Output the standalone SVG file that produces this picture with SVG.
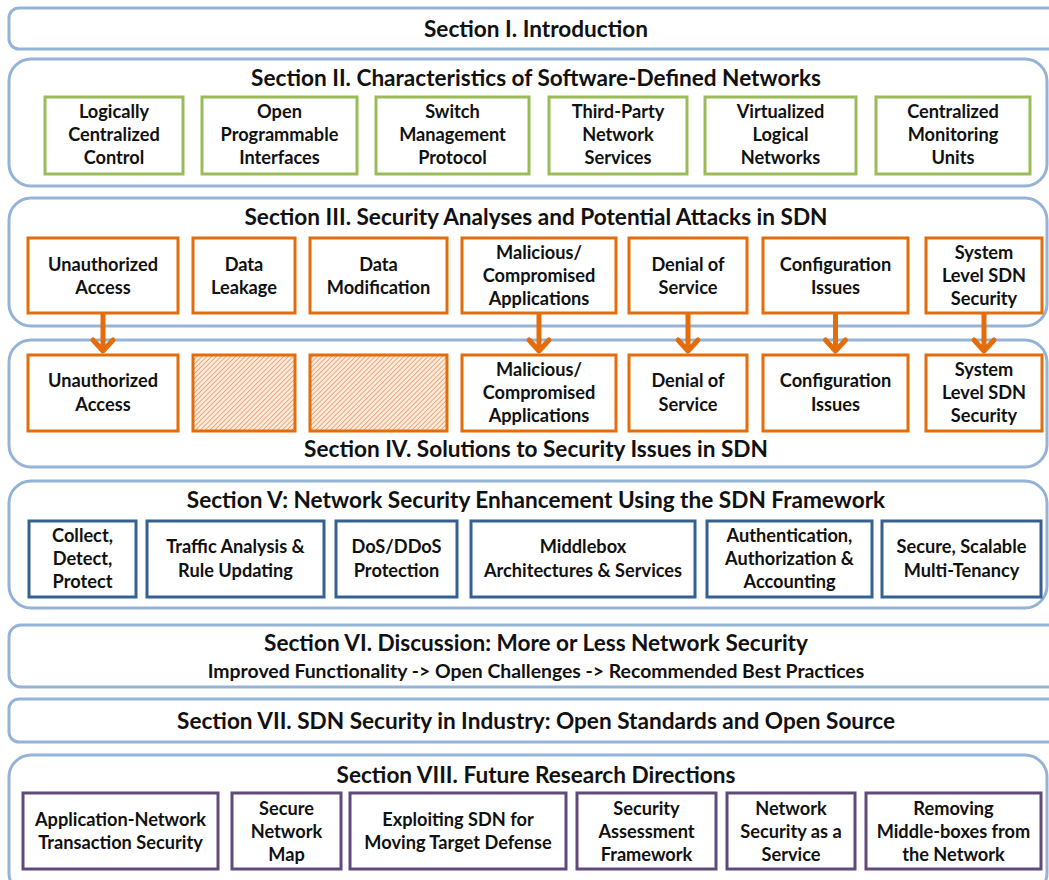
<svg xmlns="http://www.w3.org/2000/svg" width="1049" height="880" viewBox="0 0 1049 880">
<defs>
<style>
.sec{fill:#fff;stroke:#95b3d7;stroke-width:3}
.t{font-family:Lato,"Liberation Sans",sans-serif;font-weight:bold;fill:#111;text-anchor:middle}
.st{font-size:22.6px}
.bt{font-size:18.2px}
.g{fill:#fff;stroke:#9bbb59;stroke-width:3}
.o{fill:#fff;stroke:#e46c0a;stroke-width:3}
.h{fill:url(#hatch);stroke:#e46c0a;stroke-width:3}
.b{fill:#fff;stroke:#376092;stroke-width:3}
.p{fill:#fff;stroke:#604a7b;stroke-width:3}
.ar{fill:none;stroke:#e46c0a;stroke-width:5;stroke-linecap:round;stroke-linejoin:round}
</style>
<pattern id="hatch" width="3.4" height="3.4" patternUnits="userSpaceOnUse" patternTransform="rotate(45)">
<rect width="3.4" height="3.4" fill="#fbeadb"/>
<line x1="0" y1="0" x2="0" y2="3.4" stroke="#e58a4a" stroke-width="1.3"/>
</pattern>
</defs>
<rect width="1049" height="880" fill="#fff"/>

<g id="section1">
<rect class="sec" x="9" y="8" width="1060" height="41" rx="10"/>
<text class="t st" x="536" y="37">Section I. Introduction</text>
</g>

<g id="section2">
<rect class="sec" x="9" y="59" width="1038" height="127" rx="22"/>
<text class="t st" x="536" y="86">Section II. Characteristics of Software-Defined Networks</text>
</g>
<g id="n2a"><rect class="g" x="45" y="97" width="138" height="77"/><text class="t bt"><tspan x="114" y="118">Logically</tspan><tspan x="114" y="141">Centralized</tspan><tspan x="114" y="164">Control</tspan></text></g>
<g id="n2b"><rect class="g" x="202" y="97" width="155" height="77"/><text class="t bt"><tspan x="279.5" y="118">Open</tspan><tspan x="279.5" y="141">Programmable</tspan><tspan x="279.5" y="164">Interfaces</tspan></text></g>
<g id="n2c"><rect class="g" x="376" y="97" width="153" height="77"/><text class="t bt"><tspan x="452.5" y="118">Switch</tspan><tspan x="452.5" y="141">Management</tspan><tspan x="452.5" y="164">Protocol</tspan></text></g>
<g id="n2d"><rect class="g" x="549" y="97" width="138" height="77"/><text class="t bt"><tspan x="618" y="118">Third-Party</tspan><tspan x="618" y="141">Network</tspan><tspan x="618" y="164">Services</tspan></text></g>
<g id="n2e"><rect class="g" x="705" y="97" width="151" height="77"/><text class="t bt"><tspan x="780.5" y="118">Virtualized</tspan><tspan x="780.5" y="141">Logical</tspan><tspan x="780.5" y="164">Networks</tspan></text></g>
<g id="n2f"><rect class="g" x="876" y="97" width="154" height="77"/><text class="t bt"><tspan x="953" y="118">Centralized</tspan><tspan x="953" y="141">Monitoring</tspan><tspan x="953" y="164">Units</tspan></text></g>

<g id="section3">
<rect class="sec" x="9" y="198" width="1038" height="128" rx="22"/>
<text class="t st" x="536" y="225">Section III. Security Analyses and Potential Attacks in SDN</text>
</g>
<g id="n3a"><rect class="o" x="28" y="238" width="150" height="75"/><text class="t bt"><tspan x="103" y="271">Unauthorized</tspan><tspan x="103" y="294">Access</tspan></text></g>
<g id="n3b"><rect class="o" x="193" y="238" width="102" height="75"/><text class="t bt"><tspan x="244" y="271">Data</tspan><tspan x="244" y="294">Leakage</tspan></text></g>
<g id="n3c"><rect class="o" x="310" y="238" width="137" height="75"/><text class="t bt"><tspan x="378.5" y="271">Data</tspan><tspan x="378.5" y="294">Modification</tspan></text></g>
<g id="n3d"><rect class="o" x="462" y="238" width="154" height="75"/><text class="t bt"><tspan x="539" y="259">Malicious/</tspan><tspan x="539" y="282">Compromised</tspan><tspan x="539" y="305">Applications</tspan></text></g>
<g id="n3e"><rect class="o" x="629" y="238" width="118" height="75"/><text class="t bt"><tspan x="688" y="271">Denial of</tspan><tspan x="688" y="294">Service</tspan></text></g>
<g id="n3f"><rect class="o" x="763" y="238" width="145" height="75"/><text class="t bt"><tspan x="835.5" y="271">Configuration</tspan><tspan x="835.5" y="294">Issues</tspan></text></g>
<g id="n3g"><rect class="o" x="926" y="238" width="116" height="75"/><text class="t bt"><tspan x="984" y="259">System</tspan><tspan x="984" y="282">Level SDN</tspan><tspan x="984" y="305">Security</tspan></text></g>

<g id="section4">
<rect class="sec" x="9" y="340" width="1038" height="127" rx="22"/>
<text class="t st" x="536" y="457">Section IV. Solutions to Security Issues in SDN</text>
</g>
<g id="n4a"><rect class="o" x="28" y="355" width="150" height="76"/><text class="t bt"><tspan x="103" y="387">Unauthorized</tspan><tspan x="103" y="411">Access</tspan></text></g>
<g id="n4b"><rect class="h" x="193" y="355" width="102" height="76"/></g>
<g id="n4c"><rect class="h" x="310" y="355" width="137" height="76"/></g>
<g id="n4d"><rect class="o" x="462" y="355" width="154" height="76"/><text class="t bt"><tspan x="539" y="376">Malicious/</tspan><tspan x="539" y="399">Compromised</tspan><tspan x="539" y="422">Applications</tspan></text></g>
<g id="n4e"><rect class="o" x="629" y="355" width="118" height="76"/><text class="t bt"><tspan x="688" y="387">Denial of</tspan><tspan x="688" y="411">Service</tspan></text></g>
<g id="n4f"><rect class="o" x="763" y="355" width="145" height="76"/><text class="t bt"><tspan x="835.5" y="387">Configuration</tspan><tspan x="835.5" y="411">Issues</tspan></text></g>
<g id="n4g"><rect class="o" x="926" y="355" width="116" height="76"/><text class="t bt"><tspan x="984" y="376">System</tspan><tspan x="984" y="399">Level SDN</tspan><tspan x="984" y="422">Security</tspan></text></g>

<g id="connectors">
<path class="ar" d="M103 315V350M93 340L103 351L113 340"/>
<path class="ar" d="M539 315V350M529 340L539 351L549 340"/>
<path class="ar" d="M688 315V350M678 340L688 351L698 340"/>
<path class="ar" d="M835.5 315V350M825.5 340L835.5 351L845.5 340"/>
<path class="ar" d="M984 315V350M974 340L984 351L994 340"/>
</g>

<g id="section5">
<rect class="sec" x="9" y="481" width="1038" height="127" rx="22"/>
<text class="t st" x="536" y="508">Section V: Network Security Enhancement Using the SDN Framework</text>
</g>
<g id="n5a"><rect class="b" x="29" y="521" width="107" height="76"/><text class="t bt"><tspan x="82.5" y="542">Collect,</tspan><tspan x="82.5" y="565">Detect,</tspan><tspan x="82.5" y="588">Protect</tspan></text></g>
<g id="n5b"><rect class="b" x="147" y="521" width="177" height="76"/><text class="t bt"><tspan x="235.5" y="553">Traffic Analysis &amp;</tspan><tspan x="235.5" y="577">Rule Updating</tspan></text></g>
<g id="n5c"><rect class="b" x="336" y="521" width="121" height="76"/><text class="t bt"><tspan x="396.5" y="553">DoS/DDoS</tspan><tspan x="396.5" y="577">Protection</tspan></text></g>
<g id="n5d"><rect class="b" x="471" y="521" width="224" height="76"/><text class="t bt"><tspan x="583" y="553">Middlebox</tspan><tspan x="583" y="577">Architectures &amp; Services</tspan></text></g>
<g id="n5e"><rect class="b" x="707" y="521" width="165" height="76"/><text class="t bt"><tspan x="789.5" y="542">Authentication,</tspan><tspan x="789.5" y="565">Authorization &amp;</tspan><tspan x="789.5" y="588">Accounting</tspan></text></g>
<g id="n5f"><rect class="b" x="882" y="521" width="159" height="76"/><text class="t bt"><tspan x="961.5" y="553">Secure, Scalable</tspan><tspan x="961.5" y="577">Multi-Tenancy</tspan></text></g>

<g id="section6">
<rect class="sec" x="9" y="625" width="1060" height="62" rx="12"/>
<text class="t st" x="536" y="651">Section VI. Discussion: More or Less Network Security</text>
<text class="t" style="font-size:19.4px" x="536" y="678">Improved Functionality -&gt; Open Challenges -&gt; Recommended Best Practices</text>
</g>

<g id="section7">
<rect class="sec" x="9" y="699" width="1060" height="43" rx="10"/>
<text class="t st" x="536" y="729">Section VII. SDN Security in Industry: Open Standards and Open Source</text>
</g>

<g id="section8">
<rect class="sec" x="9" y="755" width="1038" height="140" rx="22"/>
<text class="t st" x="536" y="783">Section VIII. Future Research Directions</text>
</g>
<g id="n8a"><rect class="p" x="23" y="793" width="195" height="76"/><text class="t bt"><tspan x="120.5" y="826">Application-Network</tspan><tspan x="120.5" y="849">Transaction Security</tspan></text></g>
<g id="n8b"><rect class="p" x="232" y="793" width="109" height="76"/><text class="t bt"><tspan x="286.5" y="815">Secure</tspan><tspan x="286.5" y="838">Network</tspan><tspan x="286.5" y="861">Map</tspan></text></g>
<g id="n8c"><rect class="p" x="350" y="793" width="216" height="76"/><text class="t bt"><tspan x="458" y="826">Exploiting SDN for</tspan><tspan x="458" y="849">Moving Target Defense</tspan></text></g>
<g id="n8d"><rect class="p" x="577" y="793" width="139" height="76"/><text class="t bt"><tspan x="646.5" y="815">Security</tspan><tspan x="646.5" y="838">Assessment</tspan><tspan x="646.5" y="861">Framework</tspan></text></g>
<g id="n8e"><rect class="p" x="727" y="793" width="128" height="76"/><text class="t bt"><tspan x="791" y="815">Network</tspan><tspan x="791" y="838">Security as a</tspan><tspan x="791" y="861">Service</tspan></text></g>
<g id="n8f"><rect class="p" x="866" y="793" width="175" height="76"/><text class="t bt"><tspan x="953.5" y="815">Removing</tspan><tspan x="953.5" y="838">Middle-boxes from</tspan><tspan x="953.5" y="861">the Network</tspan></text></g>
</svg>
